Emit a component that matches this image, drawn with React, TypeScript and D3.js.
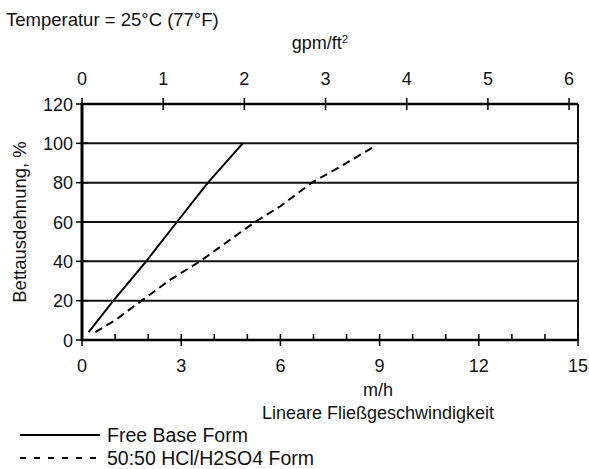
import * as d3 from 'd3'
import { useEffect, useRef } from 'react'

// Bettausdehnung vs. lineare Fließgeschwindigkeit
const mhTicks = [0, 3, 6, 9, 12, 15]
const mhMinorTicks = [1, 2, 4, 5, 7, 8, 10, 11, 13, 14]
const gpmTicks = [0, 1, 2, 3, 4, 5, 6]
const pctTicks = [0, 20, 40, 60, 80, 100, 120]

const freeBaseMh = [0.2, 0.95, 1.94, 2.87, 3.81, 4.86]
const freeBasePct = [4, 20, 40, 60, 80, 100]

const acidMh = [0.4, 1.0, 1.8, 2.7, 3.57, 4.4, 5.23, 6.0, 6.95, 7.9, 8.8]
const acidPct = [4, 10, 20, 31, 40, 50, 60, 68, 80, 89, 98]

const series = [
    { name: 'Free Base Form', x: freeBaseMh, y: freeBasePct, dash: null },
    { name: '50:50 HCl/H2SO4 Form', x: acidMh, y: acidPct, dash: '8,5' },
]

const FONT = '"Liberation Sans", Arial, sans-serif'

const App = () => {
    const ref = useRef<SVGSVGElement>(null)

    useEffect(() => {
        const svg = d3.select(ref.current)
        svg.selectAll('*').remove()

        const left = 82, right = 578, top = 104, bottom = 340

        const x = d3.scaleLinear().domain([0, 15]).range([left, right])
        const xTop = d3.scaleLinear().domain([0, 6.11]).range([left, right])
        const y = d3.scaleLinear().domain([0, 120]).range([bottom, top])

        const txt = (g, s, px, py, size = 18, anchor = 'start') =>
            g.append('text')
                .attr('x', px)
                .attr('y', py)
                .attr('font-family', FONT)
                .attr('font-size', size)
                .attr('text-anchor', anchor)
                .attr('fill', '#111')
                .text(s)

        // title
        txt(svg, 'Temperatur = 25°C (77°F)', 6, 26, 18.5)

        // horizontal grid lines
        svg.append('g')
            .selectAll('line')
            .data(pctTicks.filter(d => d > 0 && d < 120))
            .join('line')
            .attr('x1', left).attr('x2', right)
            .attr('y1', d => y(d)).attr('y2', d => y(d))
            .attr('stroke', '#111')
            .attr('stroke-width', 2)

        // right border
        svg.append('line')
            .attr('x1', right).attr('x2', right)
            .attr('y1', top).attr('y2', bottom)
            .attr('stroke', '#111').attr('stroke-width', 2)

        // top axis (gpm/ft2)
        svg.append('line')
            .attr('x1', left).attr('x2', right)
            .attr('y1', top).attr('y2', top)
            .attr('stroke', '#000').attr('stroke-width', 2.5)
        svg.append('g')
            .selectAll('line')
            .data(gpmTicks)
            .join('line')
            .attr('x1', d => xTop(d)).attr('x2', d => xTop(d))
            .attr('y1', top - 6).attr('y2', top + 6)
            .attr('stroke', '#000').attr('stroke-width', 1.5)
        gpmTicks.forEach(d => txt(svg, String(d), xTop(d), 85, 18, 'middle'))
        const unit = txt(svg, 'gpm/ft', 320, 49, 18, 'middle')
        unit.append('tspan').attr('font-size', 11.5).attr('dy', -6).text('2')

        // bottom axis (m/h)
        svg.append('line')
            .attr('x1', left).attr('x2', right)
            .attr('y1', bottom).attr('y2', bottom)
            .attr('stroke', '#000').attr('stroke-width', 2.5)
        svg.append('g')
            .selectAll('line')
            .data(mhTicks)
            .join('line')
            .attr('x1', d => x(d)).attr('x2', d => x(d))
            .attr('y1', bottom - 6).attr('y2', bottom + 6)
            .attr('stroke', '#000').attr('stroke-width', 1.5)
        svg.append('g')
            .selectAll('line')
            .data(mhMinorTicks)
            .join('line')
            .attr('x1', d => x(d)).attr('x2', d => x(d))
            .attr('y1', bottom - 6).attr('y2', bottom)
            .attr('stroke', '#000').attr('stroke-width', 1.5)
        mhTicks.forEach(d => txt(svg, String(d), x(d), 372, 18, 'middle'))
        txt(svg, 'm/h', 378, 396, 18, 'middle')
        txt(svg, 'Lineare Fließgeschwindigkeit', 378, 419, 18, 'middle')

        // left axis
        svg.append('line')
            .attr('x1', left).attr('x2', left)
            .attr('y1', top - 1).attr('y2', bottom + 1)
            .attr('stroke', '#000').attr('stroke-width', 3)
        svg.append('g')
            .selectAll('line')
            .data(pctTicks)
            .join('line')
            .attr('x1', left - 6).attr('x2', left + 6)
            .attr('y1', d => y(d)).attr('y2', d => y(d))
            .attr('stroke', '#000').attr('stroke-width', 1.5)
        pctTicks.forEach(d => txt(svg, String(d), 73, y(d) + 6.5, 18, 'end'))
        txt(svg, 'Bettausdehnung, %', 0, 0, 18.5, 'middle')
            .attr('x', null).attr('y', null)
            .attr('transform', `translate(26,${(top + bottom) / 2}) rotate(-90)`)

        // series lines
        const line = d3.line<number>()
            .x(d => x(d[0]))
            .y(d => y(d[1]))
        series.forEach(s => {
            const pts = s.x.map((v, i) => [v, s.y[i]])
            svg.append('path')
                .datum(pts)
                .attr('fill', 'none')
                .attr('stroke', '#000')
                .attr('stroke-width', 2)
                .attr('stroke-dasharray', s.dash)
                .attr('d', line)
        })

        // legend
        series.forEach((s, i) => {
            const ly = 435 + i * 23
            svg.append('line')
                .attr('x1', 20).attr('x2', 100)
                .attr('y1', ly).attr('y2', ly)
                .attr('stroke', '#000')
                .attr('stroke-width', 2)
                .attr('stroke-dasharray', s.dash ? '6,8' : null)
            txt(svg, s.name, 107, ly + 7, 19.5)
        })
    }, [])

    return (
        <svg ref={ref} width={589} height={469}
            style={{ position: 'absolute', left: 0, top: 0, background: '#fff' }} />
    )
}

export default App
